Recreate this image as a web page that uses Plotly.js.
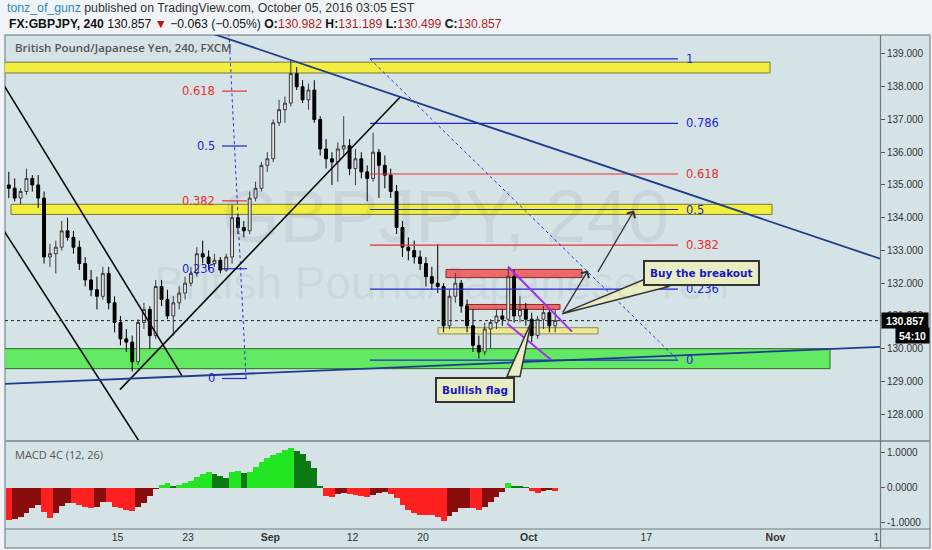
<!DOCTYPE html>
<html><head><meta charset="utf-8">
<script src="https://cdn.plot.ly/plotly-3.0.1.min.js"></script>
<style>html,body{margin:0;padding:0;background:#f1f4f7;}#chart{width:932px;height:550px;}</style>
</head><body><div id="chart"></div>
<script>
// ---------- DATA (12h bars) ----------
const candleTimes = [
'2016-08-01 18:00','2016-08-02 06:00','2016-08-02 18:00','2016-08-03 06:00','2016-08-03 18:00','2016-08-04 06:00','2016-08-04 18:00','2016-08-05 06:00','2016-08-05 18:00',
'2016-08-08 06:00','2016-08-08 18:00','2016-08-09 06:00','2016-08-09 18:00','2016-08-10 06:00','2016-08-10 18:00','2016-08-11 06:00','2016-08-11 18:00','2016-08-12 06:00','2016-08-12 18:00',
'2016-08-15 06:00','2016-08-15 18:00','2016-08-16 06:00','2016-08-16 18:00','2016-08-17 06:00','2016-08-17 18:00','2016-08-18 06:00','2016-08-18 18:00','2016-08-19 06:00','2016-08-19 18:00',
'2016-08-22 06:00','2016-08-22 18:00','2016-08-23 06:00','2016-08-23 18:00','2016-08-24 06:00','2016-08-24 18:00','2016-08-25 06:00','2016-08-25 18:00','2016-08-26 06:00','2016-08-26 18:00',
'2016-08-29 06:00','2016-08-29 18:00','2016-08-30 06:00','2016-08-30 18:00','2016-08-31 06:00','2016-08-31 18:00','2016-09-01 06:00','2016-09-01 18:00','2016-09-02 06:00','2016-09-02 18:00',
'2016-09-05 06:00','2016-09-05 18:00','2016-09-06 06:00','2016-09-06 18:00','2016-09-07 06:00','2016-09-07 18:00','2016-09-08 06:00','2016-09-08 18:00','2016-09-09 06:00','2016-09-09 18:00',
'2016-09-12 06:00','2016-09-12 18:00','2016-09-13 06:00','2016-09-13 18:00','2016-09-14 06:00','2016-09-14 18:00','2016-09-15 06:00','2016-09-15 18:00','2016-09-16 06:00','2016-09-16 18:00',
'2016-09-19 06:00','2016-09-19 18:00','2016-09-20 06:00','2016-09-20 18:00','2016-09-21 06:00','2016-09-21 18:00','2016-09-22 06:00','2016-09-22 18:00','2016-09-23 06:00','2016-09-23 18:00',
'2016-09-26 06:00','2016-09-26 18:00','2016-09-27 06:00','2016-09-27 18:00','2016-09-28 06:00','2016-09-28 18:00','2016-09-29 06:00','2016-09-29 18:00','2016-09-30 06:00','2016-09-30 18:00',
'2016-10-03 06:00','2016-10-03 18:00','2016-10-04 06:00','2016-10-04 18:00','2016-10-05 06:00'];
const openP = [135.0,134.9,134.6,134.8,135.2,135.0,134.6,132.8,132.9,
133.1,133.6,133.4,133.1,132.6,132.1,131.8,131.6,132.3,131.4,
130.8,130.3,130.2,129.6,130.8,131.2,130.4,131.9,131.5,131.0,
131.4,131.7,132.0,132.3,132.9,132.8,132.6,132.7,132.4,132.8,
134.0,133.7,133.6,134.6,134.9,135.6,135.8,136.9,137.3,137.5,
138.4,138.0,137.6,137.9,137.0,136.1,135.8,135.7,136.1,136.2,
135.5,135.8,135.4,135.2,136.0,135.6,135.3,134.8,133.7,133.1,
133.0,132.8,132.6,132.2,132.0,131.9,130.7,131.6,132.0,131.3,
130.7,130.1,129.9,130.6,130.8,131.0,130.9,132.2,131.0,131.2,
130.9,130.4,130.9,131.1,130.7];
const highP = [135.4,135.2,134.9,135.5,135.3,135.3,134.8,133.2,133.3,
133.9,134.0,133.6,133.3,132.8,132.4,132.2,132.5,132.5,131.6,
131.0,130.6,130.4,130.9,131.4,131.3,132.1,132.1,131.8,131.6,
131.9,132.2,132.5,133.1,133.3,133.0,132.9,132.8,132.9,134.4,
134.1,133.9,134.8,135.1,135.7,136.0,137.0,137.6,137.7,138.8,
138.6,138.2,138.1,138.2,137.1,136.4,136.0,136.3,137.1,136.4,
136.1,136.0,135.6,136.6,136.1,135.9,135.5,135.0,133.9,133.4,
133.3,133.0,132.8,132.5,133.2,132.0,131.8,132.3,132.1,131.5,
131.2,130.4,130.8,130.9,131.2,131.2,132.45,132.4,131.6,131.4,
131.1,131.0,131.3,131.2,131.19];
const lowP = [134.6,134.5,134.4,134.7,134.8,134.3,132.6,132.5,132.3,
133.0,133.3,132.9,132.4,131.9,131.6,131.2,131.5,131.2,130.5,
130.1,129.9,129.3,129.5,130.6,130.0,130.3,131.3,130.9,130.4,
131.2,131.5,131.9,132.2,132.6,132.4,132.5,132.3,132.35,132.6,
133.5,133.4,133.5,134.5,134.8,135.4,135.7,136.8,136.9,137.4,
137.9,137.5,137.3,136.9,135.9,135.5,135.0,135.1,135.9,135.3,
135.0,135.2,134.5,135.1,134.6,134.9,134.6,133.5,132.8,132.7,
132.6,132.4,131.9,131.8,131.7,130.5,130.6,131.4,131.1,130.5,
129.9,129.7,129.8,130.0,130.6,130.7,130.8,130.8,130.8,130.7,
130.2,130.3,130.6,130.5,130.5];
const closeP = [134.9,134.6,134.8,135.2,135.0,134.6,132.8,132.9,133.1,
133.6,133.4,133.1,132.6,132.1,131.8,131.6,132.3,131.4,130.8,
130.3,130.2,129.6,130.8,131.2,130.4,131.9,131.5,131.0,131.4,
131.7,132.0,132.3,132.9,132.8,132.6,132.7,132.4,132.8,134.0,
133.7,133.6,134.6,134.9,135.6,135.8,136.9,137.3,137.5,138.4,
138.0,137.6,137.9,137.0,136.1,135.8,135.7,136.1,136.2,135.5,
135.8,135.4,135.2,136.0,135.6,135.3,134.8,133.7,133.1,133.0,
132.8,132.6,132.2,132.0,131.9,130.7,131.6,132.0,131.3,130.7,
130.1,129.9,130.6,130.8,131.0,130.9,132.2,131.0,131.2,130.9,
130.4,130.9,131.1,130.7,130.857];
const macdHist = [-0.92,-0.90,-0.85,-0.72,-0.58,-0.50,-0.70,-0.87,-0.72,
-0.52,-0.44,-0.45,-0.50,-0.55,-0.58,-0.55,-0.42,-0.42,-0.55,
-0.60,-0.65,-0.68,-0.55,-0.45,-0.25,-0.05,0.08,0.12,0.03,
0.08,0.12,0.20,0.30,0.40,0.44,0.38,0.32,0.28,0.45,
0.48,0.42,0.45,0.60,0.72,0.85,0.92,1.00,1.08,1.12,
1.05,0.95,0.75,0.55,0.05,-0.25,-0.28,-0.18,-0.15,-0.18,
-0.20,-0.25,-0.28,-0.22,-0.15,-0.12,-0.18,-0.30,-0.50,-0.65,
-0.72,-0.78,-0.80,-0.80,-0.85,-0.95,-0.82,-0.70,-0.60,-0.58,
-0.60,-0.65,-0.55,-0.42,-0.28,-0.12,0.12,0.05,0.03,0.02,
-0.10,-0.15,-0.10,-0.08,-0.10];
const lastPrice = 130.857;
const countdown = '54:10';
const priceTicks = [128,129,130,131,132,133,134,135,136,137,138,139];
const macdTicks = [-1,0,1];
const macdTickLabels = ['-1.0000','0.0000','1.0000'];
const tickDates = ['2016-08-15','2016-08-23','2016-09-01','2016-09-12','2016-09-20','2016-10-03','2016-10-17','2016-11-01','2016-11-11 14:00'];
const tickLabels = ['15','23','<b>Sep</b>','12','20','<b>Oct</b>','17','<b>Nov</b>','1'];

// ---------- DRAWINGS (chart annotations, data coordinates) ----------
const yellowZones = [
  ['2016-07-29 00:00','2016-10-31 12:45',138.42,138.75],
  ['2016-08-01 22:30','2016-10-31 16:50',134.10,134.41]];
const paleZone = ['2016-09-21 06:40','2016-10-10 21:20',130.45,130.64];
const greenZone = ['2016-07-29 00:00','2016-11-07 15:20',129.39,130.00];
const redZones = [
  ['2016-09-21 23:00','2016-10-07 12:45',132.17,132.42],
  ['2016-09-23 15:50','2016-10-05 15:50',131.20,131.35]];
const fibR = {low:129.65, high:138.85, start:'2016-09-13 11:45', end:'2016-10-19 16:50', label:'2016-10-20 05:00',
  ratios:[0,0.236,0.382,0.5,0.618,0.786,1]};
const fibL = {low:129.09, high:143.29, start:'2016-08-25 21:20', end:'2016-08-30 00:30', label:'2016-08-25 11:15',
  trendTop:'2016-08-25 23:30', trendBottom:'2016-08-29 22:30', ratios:[0,0.236,0.382,0.5,0.618]};
const blackLines = [
  ['2016-08-01 00:00',138.24,'2016-08-22 11:45',129.17],
  ['2016-08-01 00:00',133.79,'2016-08-17 22:00',126.57],
  ['2016-08-15 05:00',128.75,'2016-09-16 01:00',137.68]];
const navyLines = [
  ['2016-08-19 15:00',140.04,'2016-11-15 14:25',132.30],
  ['2016-08-01 00:00',128.92,'2016-11-15 14:25',130.11]];
const flagLines = [
  ['2016-09-29 05:30',132.51,'2016-10-06 16:20',130.52],
  ['2016-09-29 03:40',130.77,'2016-10-04 21:20',129.66]];
const arrows = [
  ['2016-10-05 20:00',131.07,'2016-10-10 01:00',132.39],
  ['2016-10-10 19:25',132.30,'2016-10-13 23:00',134.22]];
const callouts = [
  {text:'Buy the breakout', x:'2016-10-21 16:50', y:132.31, tipX:'2016-10-05 20:00', tipY:131.07, path:'M0,0 L82,34 L106,27 Z'},
  {text:'Bullish flag', x:'2016-09-26 10:20', y:128.73, tipX:'2016-10-03 04:30', tipY:130.80, path:'M0,0 L-24,-54 L-11,-54 Z'}];

// ---------- COLORS ----------
const BLUE='#2226d6', RED='#e83030';
function fibColor(r){ return (r===0.382||r===0.618)?RED:BLUE; }
const macdColors = macdHist.map((v,i)=>{
  const prev = i>0?macdHist[i-1]:v;
  if(v>=0) return v>=prev?'#22e622':'#0b7a12';
  return v<=prev?'#ff2020':'#8a0d0d';
});

// ---------- TRACES ----------
const candles = {
  type:'candlestick', x:candleTimes, open:openP, high:highP, low:lowP, close:closeP,
  xaxis:'x', yaxis:'y', hoverinfo:'skip', whiskerwidth:0,
  increasing:{line:{color:'#3a3a3a',width:1}, fillcolor:'#e4e4e4'},
  decreasing:{line:{color:'#000',width:1}, fillcolor:'#000'}
};
const macdBars = {
  type:'bar', x:candleTimes, y:macdHist, xaxis:'x', yaxis:'y2', hoverinfo:'skip',
  marker:{color:macdColors, line:{width:0}}, width:43200000
};

// ---------- SHAPES ----------
const shapes = [];
shapes.push({type:'rect',xref:'paper',yref:'paper',x0:0,x1:1.0571,y0:-0.0385,y1:1,fillcolor:'#d5e2e6',line:{color:'#8d9ca2',width:1.5},layer:'below'});
function zone(z,fill,border){ shapes.push({type:'rect',xref:'x',yref:'y',x0:z[0],x1:z[1],y0:z[2],y1:z[3],fillcolor:fill,line:{color:border,width:1},layer:'below'}); }
zone(greenZone,'#62e862','#2b6e2b');
yellowZones.forEach(z=>zone(z,'#f1ee40','#77773a'));
zone(paleZone,'#eeea90','#8a8a60');
redZones.forEach(z=>zone(z,'#ee6a6a','#8a2a2a'));
fibR.ratios.forEach(r=>{
  const p = fibR.low + r*(fibR.high-fibR.low);
  const c = r===0.5?'#1c2a80':fibColor(r);
  shapes.push({type:'line',xref:'x',yref:'y',x0:fibR.start,x1:fibR.end,y0:p,y1:p,line:{color:c,width:1.2}});
});
shapes.push({type:'line',xref:'x',yref:'y',x0:fibR.start,y0:fibR.high,x1:fibR.end,y1:fibR.low,line:{color:'#3030e0',width:1,dash:'dot'}});
fibL.ratios.forEach(r=>{
  const p = fibL.low + r*(fibL.high-fibL.low);
  shapes.push({type:'line',xref:'x',yref:'y',x0:fibL.start,x1:fibL.end,y0:p,y1:p,line:{color:fibColor(r),width:1.2}});
});
shapes.push({type:'line',xref:'x',yref:'y',x0:fibL.trendTop,y0:fibL.high,x1:fibL.trendBottom,y1:fibL.low,line:{color:'#3030e0',width:1,dash:'dot'}});
blackLines.forEach(l=>shapes.push({type:'line',xref:'x',yref:'y',x0:l[0],y0:l[1],x1:l[2],y1:l[3],line:{color:'#0a0a0a',width:1.6}}));
navyLines.forEach(l=>shapes.push({type:'line',xref:'x',yref:'y',x0:l[0],y0:l[1],x1:l[2],y1:l[3],line:{color:'#1f3c8c',width:1.8}}));
flagLines.forEach(l=>shapes.push({type:'line',xref:'x',yref:'y',x0:l[0],y0:l[1],x1:l[2],y1:l[3],line:{color:'#a030f0',width:2}}));
shapes.push({type:'line',xref:'paper',yref:'y',x0:0,x1:1,y0:lastPrice,y1:lastPrice,line:{color:'#222',width:1,dash:'dot'}});
callouts.forEach(c=>shapes.push({type:'path',xref:'x',yref:'y',xsizemode:'pixel',ysizemode:'pixel',xanchor:c.tipX,yanchor:c.tipY,path:c.path,fillcolor:'#e9edc3',line:{color:'#333',width:1.5}}));
shapes.push({type:'line',xref:'paper',yref:'paper',x0:0,x1:1.0571,y0:0.1781,y1:0.1781,line:{color:'#8d9ca2',width:2}});
shapes.push({type:'line',xref:'paper',yref:'paper',x0:1.0006,x1:1.0006,y0:-0.0385,y1:1,line:{color:'#6f7d83',width:1.2}});
shapes.push({type:'line',xref:'paper',yref:'paper',x0:0,x1:1.0571,y0:0,y1:0,line:{color:'#6f7d83',width:1.2}});

// ---------- ANNOTATIONS ----------
const ann = [];
const HF = 'Liberation Sans, Arial, sans-serif';
ann.push({xref:'paper',yref:'paper',x:0,y:1.0547,xanchor:'left',yanchor:'middle',showarrow:false,
  font:{family:HF,size:12.3,color:'#333'},
  text:'<span style="color:#2a8ab8">tonz_of_gunz</span> published on TradingView.com, October 05, 2016 03:05 EST'});
ann.push({xref:'paper',yref:'paper',x:0.002,y:1.0223,xanchor:'left',yanchor:'middle',showarrow:false,
  font:{family:HF,size:12.2,color:'#111'},
  text:'<b>FX:GBPJPY, 240</b> 130.857 <span style="color:#c01010">▼</span> −0.063 (−0.05%) <b>O:</b><span style="color:#b01c1c">130.982</span> <b>H:</b><span style="color:#b01c1c">131.189</span> <b>L:</b><span style="color:#b01c1c">130.499</span> <b>C:</b><span style="color:#b01c1c">130.857</span>'});
ann.push({xref:'paper',yref:'paper',x:0.503,y:0.632,xanchor:'center',yanchor:'middle',showarrow:false,
  font:{family:HF,size:74,color:'rgba(60,70,75,0.08)'},text:'GBPJPY, 240'});
ann.push({xref:'paper',yref:'paper',x:0.4994,y:0.497,xanchor:'center',yanchor:'middle',showarrow:false,
  font:{family:HF,size:46,color:'rgba(60,70,75,0.08)'},text:'British Pound/Japanese Yen'});
ann.push({xref:'paper',yref:'paper',x:0.009,y:0.9737,xanchor:'left',yanchor:'middle',showarrow:false,
  font:{family:'Open Sans, sans-serif',size:11.5,color:'#555',weight:600},text:'British Pound/Japanese Yen, 240, FXCM'});
ann.push({xref:'paper',yref:'paper',x:0.009,y:0.1498,xanchor:'left',yanchor:'middle',showarrow:false,
  font:{family:'Open Sans, sans-serif',size:11,color:'#555'},text:'MACD 4C (12, 26)'});
const FF = 'DejaVu Sans, Verdana, sans-serif';
fibR.ratios.forEach(r=>{
  const p = fibR.low + r*(fibR.high-fibR.low);
  ann.push({xref:'x',yref:'y',x:fibR.label,y:p,xanchor:'left',yanchor:'middle',showarrow:false,
    font:{family:FF,size:11.5,color:fibColor(r)},text:String(r)});
});
fibL.ratios.forEach(r=>{
  const p = fibL.low + r*(fibL.high-fibL.low);
  ann.push({xref:'x',yref:'y',x:fibL.label,y:p,xanchor:'right',yanchor:'middle',showarrow:false,
    font:{family:FF,size:11.5,color:fibColor(r)},text:String(r)});
});
arrows.forEach(a=>ann.push({xref:'x',yref:'y',axref:'x',ayref:'y',x:a[2],y:a[3],ax:a[0],ay:a[1],text:'',
  showarrow:true,arrowhead:4,arrowsize:1.4,arrowwidth:1.3,arrowcolor:'#333',standoff:0,startstandoff:0}));
callouts.forEach(c=>ann.push({xref:'x',yref:'y',x:c.x,y:c.y,xanchor:'center',yanchor:'middle',showarrow:false,
  text:'<b>'+c.text+'</b>',font:{family:FF,size:10.5,color:'#1818c0'},bgcolor:'#e9edc3',bordercolor:'#333',borderwidth:2,borderpad:5}));
ann.push({xref:'paper',yref:'y',x:1.0014,y:lastPrice,xanchor:'left',yanchor:'middle',showarrow:false,
  text:'<b>'+lastPrice.toFixed(3)+'</b>',font:{family:HF,size:10.5,color:'#fff'},bgcolor:'#000',borderpad:1.5,width:43,align:'center'});
ann.push({xref:'paper',yref:'y',x:1.0571,y:lastPrice,yshift:-15,xanchor:'right',yanchor:'middle',showarrow:false,
  text:'<b>'+countdown+'</b>',font:{family:HF,size:10.5,color:'#fff'},bgcolor:'#000',borderpad:1.5,width:30,align:'center'});

const tickFont = {family:HF,size:10,color:'#333'};
const layout = {
  width:932,height:550,margin:{l:5,r:52,t:35,b:21},
  paper_bgcolor:'#f1f4f7',plot_bgcolor:'#d5e2e6',showlegend:false,bargap:0,
  xaxis:{type:'date',range:['2016-08-01 10:13','2016-11-11 21:22'],rangebreaks:[{bounds:['sat','mon']}],
    rangeslider:{visible:false},anchor:'y2',tickmode:'array',tickvals:tickDates,ticktext:tickLabels,
    ticks:'',showgrid:false,zeroline:false,showline:false,tickfont:{family:HF,size:10.5,color:'#333'},fixedrange:true},
  yaxis:{domain:[0.1781,1],range:[127.18,139.58],side:'right',anchor:'x',tickmode:'array',tickvals:priceTicks,
    tickformat:'.3f',ticks:'outside',ticklen:4,tickcolor:'#555',showgrid:false,zeroline:false,showline:false,tickfont:tickFont,fixedrange:true},
  yaxis2:{domain:[0,0.1781],range:[-1.188,1.333],side:'right',anchor:'x',tickmode:'array',tickvals:macdTicks,ticktext:macdTickLabels,
    ticks:'outside',ticklen:4,tickcolor:'#555',showgrid:false,zeroline:false,showline:false,tickfont:tickFont,fixedrange:true},
  shapes:shapes, annotations:ann
};
Plotly.newPlot('chart',[macdBars,candles],layout,{displayModeBar:false,staticPlot:true});
</script></body></html>
